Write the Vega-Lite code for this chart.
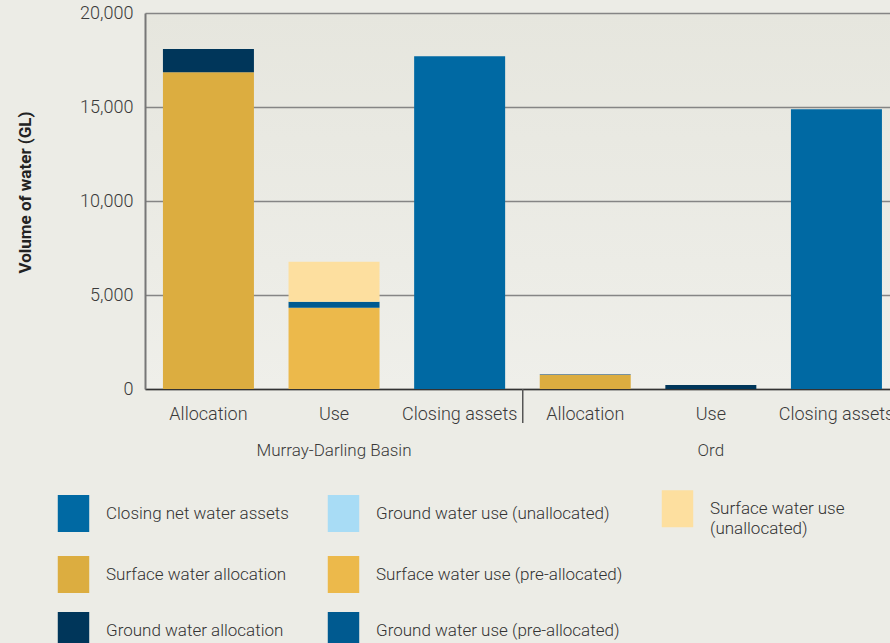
{
  "$schema": "https://vega.github.io/schema/vega-lite/v6.json",
  "width": 745,
  "height": 376,
  "autosize": "none",
  "padding": {"left": 145, "top": 13, "right": 0, "bottom": 254},
  "background": "#ecece6",
  "config": {
    "font": "Roboto",
    "view": {"stroke": null, "fill": {"gradient": "linear", "x1": 0, "y1": 0, "x2": 0, "y2": 1, "stops": [{"offset": 0, "color": "#e6e6de"}, {"offset": 1, "color": "#efefea"}]}},
    "style": {"guide-label": {"lineHeight": 20}}
  },
  "datasets": {
    "bars": [
      {"key": "MDB|Allocation", "type": "Surface water allocation", "stack": 1, "value": 16850},
      {"key": "MDB|Allocation", "type": "Ground water allocation", "stack": 2, "value": 1230},
      {"key": "MDB|Use", "type": "Surface water use (pre-allocated)", "stack": 1, "value": 4320},
      {"key": "MDB|Use", "type": "Ground water use (pre-allocated)", "stack": 2, "value": 320},
      {"key": "MDB|Use", "type": "Surface water use (unallocated)", "stack": 3, "value": 2130},
      {"key": "MDB|Closing assets", "type": "Closing net water assets", "stack": 1, "value": 17700},
      {"key": "Ord|Allocation", "type": "Surface water allocation", "stack": 1, "value": 745},
      {"key": "Ord|Allocation", "type": "Ground water allocation", "stack": 2, "value": 25},
      {"key": "Ord|Use", "type": "Ground water allocation", "stack": 1, "value": 210},
      {"key": "Ord|Closing assets", "type": "Closing net water assets", "stack": 1, "value": 14880}
    ],
    "groups": [
      {"key": "MDB|Use", "label": "Murray-Darling Basin"},
      {"key": "Ord|Use", "label": "Ord"}
    ],
    "separators": [
      {"key": "Ord|Allocation"}
    ]
  },
  "encoding": {
    "x": {
      "field": "key",
      "type": "nominal",
      "scale": {
        "domain": ["MDB|Allocation", "MDB|Use", "MDB|Closing assets", "Ord|Allocation", "Ord|Use", "Ord|Closing assets"],
        "paddingInner": 0.2755,
        "paddingOuter": 0.1035,
        "align": 0.69
      },
      "axis": {
        "title": null,
        "labelExpr": "split(datum.label, '|')[1]",
        "labelAngle": 0,
        "labelFontSize": 18,
        "labelFontWeight": 300,
        "labelColor": "#3a3a3a",
        "labelPadding": 16,
        "ticks": false,
        "domainColor": "#333333",
        "domainWidth": 1.5,
        "labelLimit": 200
      }
    }
  },
  "layer": [
    {
      "data": {"name": "bars"},
      "mark": {"type": "bar", "strokeWidth": 0},
      "encoding": {
        "y": {
          "aggregate": "sum",
          "field": "value",
          "type": "quantitative",
          "scale": {"domain": [0, 20000], "nice": false},
          "axis": {
            "title": "Volume of water (GL)",
            "titleFontSize": 17,
            "titleFontWeight": "bold",
            "titleColor": "#222222",
            "titlePadding": 45,
            "titleY": 179,
            "values": [0, 5000, 10000, 15000, 20000],
            "format": ",.0f",
            "labelFontSize": 18,
            "labelFontWeight": 300,
            "labelColor": "#3a3a3a",
            "labelPadding": 12,
            "ticks": false,
            "domainColor": "#777777",
            "domainWidth": 2,
            "grid": true,
            "gridColor": "#858585",
            "gridWidth": 1.5
          }
        },
        "color": {
          "field": "type",
          "type": "nominal",
          "sort": ["Closing net water assets", "Ground water use (unallocated)", "Surface water use (unallocated)", "Surface water allocation", "Surface water use (pre-allocated)", " ", "Ground water allocation", "Ground water use (pre-allocated)"],
          "scale": {
            "domain": ["Closing net water assets", "Ground water use (unallocated)", "Surface water use (unallocated)", "Surface water allocation", "Surface water use (pre-allocated)", " ", "Ground water allocation", "Ground water use (pre-allocated)"],
            "range": ["#0069a3", "#a8dcf5", "#fddf9f", "#dcad40", "#ecb94b", "rgba(0,0,0,0)", "#00365a", "#005a90"]
          },
          "legend": {
            "title": null,
            "orient": "none",
            "legendX": -90,
            "legendY": 477,
            "columns": 3,
            "direction": "horizontal",
            "padding": 0,
            "symbolType": "M-0.85,-1V1H0.85V-1Z",
            "symbolSize": 1369,
            "symbolStrokeWidth": 0,
            "symbolOpacity": 1,
            "labelFontSize": 17,
            "labelFontWeight": 300,
            "labelColor": "#333333",
            "labelOffset": 14,
            "labelLimit": 320,
            "columnPadding": 36,
            "rowPadding": 19,
            "labelExpr": "datum.label == 'Surface water use (unallocated)' ? ['Surface water use', '(unallocated)'] : datum.label"
          }
        },
        "order": {"field": "stack", "type": "quantitative"}
      }
    },
    {
      "data": {"name": "groups"},
      "mark": {"type": "text", "fontSize": 17, "fontWeight": 300, "color": "#3a3a3a", "baseline": "middle", "dy": 62},
      "encoding": {
        "y": {"datum": 0, "type": "quantitative"},
        "text": {"field": "label"}
      }
    },
    {
      "data": {"name": "separators"},
      "mark": {"type": "rule", "color": "#555555", "strokeWidth": 1.5, "xOffset": -17},
      "encoding": {
        "x": {"field": "key", "type": "nominal", "bandPosition": 0},
        "y": {"datum": 0, "type": "quantitative"},
        "y2": {"datum": -1810}
      }
    }
  ]
}
